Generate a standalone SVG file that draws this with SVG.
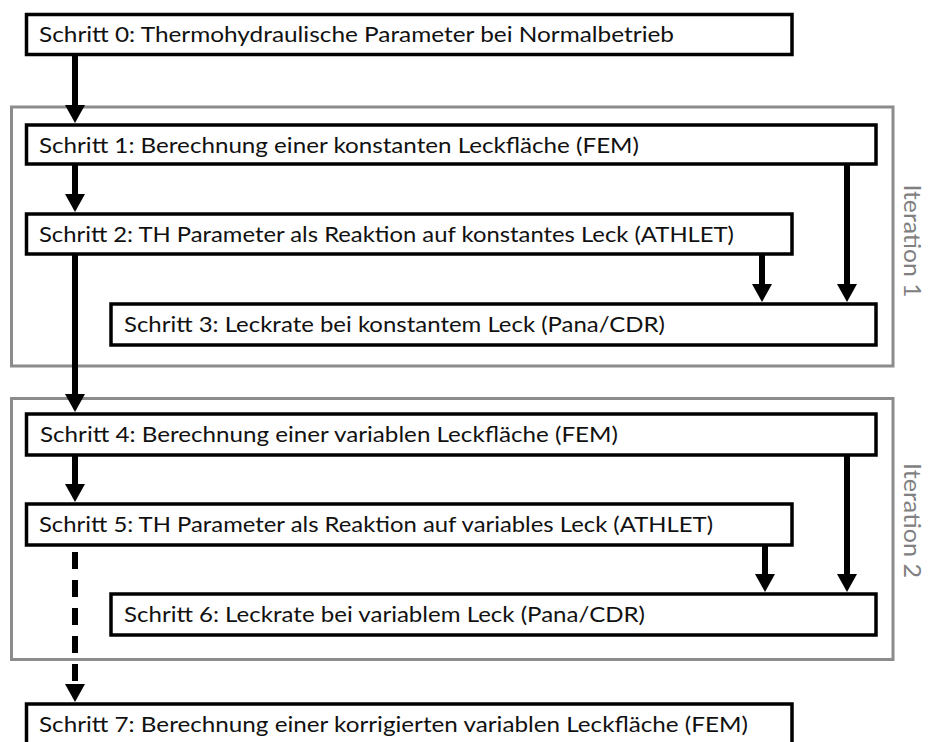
<svg xmlns="http://www.w3.org/2000/svg" width="928" height="742" viewBox="0 0 928 742">
<style>
.bg{fill:#ffffff}
.box{fill:#ffffff;stroke:#000000;stroke-width:3.5}
.grp{fill:none;stroke:#8c8c8c;stroke-width:3}
.t{font-family:Lato,"Liberation Sans",sans-serif;font-size:21px;fill:#111111}
.it{font-family:Lato,"Liberation Sans",sans-serif;font-size:23px;fill:#808080}
.c{stroke:#000000;stroke-width:6;fill:none;marker-end:url(#ah)}
.d{stroke-dasharray:17 11}
</style>
<defs>
<marker id="ah" viewBox="0 0 18 20" refX="0" refY="10" markerUnits="userSpaceOnUse" markerWidth="18" markerHeight="20" orient="auto">
<path d="M0,0 L18,10 L0,20 Z" fill="#000000"/>
</marker>
</defs>
<rect class="bg" x="0" y="0" width="928" height="742"/>
<g id="iteration1">
<rect class="grp" x="11.5" y="107" width="881.5" height="259"/>
<text class="it" transform="translate(904,241) rotate(90)" text-anchor="middle" textLength="113" lengthAdjust="spacingAndGlyphs">Iteration 1</text>
</g>
<g id="iteration2">
<rect class="grp" x="11.5" y="398.5" width="881.5" height="261"/>
<text class="it" transform="translate(904,520.5) rotate(90)" text-anchor="middle" textLength="115" lengthAdjust="spacingAndGlyphs">Iteration 2</text>
</g>
<g id="connectors">
<line class="c" x1="75" y1="56" x2="75" y2="105"/>
<line class="c" x1="75" y1="165" x2="75" y2="194"/>
<line class="c" x1="762" y1="254" x2="762" y2="284"/>
<line class="c" x1="847" y1="165" x2="847" y2="284"/>
<line class="c" x1="75" y1="254" x2="75" y2="394"/>
<line class="c" x1="75" y1="456" x2="75" y2="484"/>
<line class="c" x1="765" y1="546" x2="765" y2="574"/>
<line class="c" x1="847" y1="456" x2="847" y2="574"/>
<line class="c d" x1="75" y1="552" x2="75" y2="684"/>
</g>
<g id="step0">
<rect class="box" x="26.5" y="14.5" width="765.5" height="40"/>
<text class="t" x="39" y="42" textLength="635" lengthAdjust="spacingAndGlyphs">Schritt 0: Thermohydraulische Parameter bei Normalbetrieb</text>
</g>
<g id="step1">
<rect class="box" x="26.5" y="125" width="849.5" height="39"/>
<text class="t" x="39" y="152.5" textLength="600" lengthAdjust="spacingAndGlyphs">Schritt 1: Berechnung einer konstanten Leckfläche (FEM)</text>
</g>
<g id="step2">
<rect class="box" x="26.5" y="214" width="765.5" height="40"/>
<text class="t" x="39" y="242" textLength="695" lengthAdjust="spacingAndGlyphs">Schritt 2: TH Parameter als Reaktion auf konstantes Leck (ATHLET)</text>
</g>
<g id="step3">
<rect class="box" x="111" y="304" width="765" height="41"/>
<text class="t" x="124" y="332" textLength="541" lengthAdjust="spacingAndGlyphs">Schritt 3: Leckrate bei konstantem Leck (Pana/CDR)</text>
</g>
<g id="step4">
<rect class="box" x="26.5" y="414" width="849.5" height="41"/>
<text class="t" x="40" y="442" textLength="578" lengthAdjust="spacingAndGlyphs">Schritt 4: Berechnung einer variablen Leckfläche (FEM)</text>
</g>
<g id="step5">
<rect class="box" x="26.5" y="504" width="765.5" height="41"/>
<text class="t" x="39" y="532" textLength="674" lengthAdjust="spacingAndGlyphs">Schritt 5: TH Parameter als Reaktion auf variables Leck (ATHLET)</text>
</g>
<g id="step6">
<rect class="box" x="111" y="594" width="765" height="41"/>
<text class="t" x="124" y="622" textLength="521" lengthAdjust="spacingAndGlyphs">Schritt 6: Leckrate bei variablem Leck (Pana/CDR)</text>
</g>
<g id="step7">
<rect class="box" x="26.5" y="704" width="765.5" height="60"/>
<text class="t" x="39" y="732" textLength="709" lengthAdjust="spacingAndGlyphs">Schritt 7: Berechnung einer korrigierten variablen Leckfläche (FEM)</text>
</g>
</svg>
